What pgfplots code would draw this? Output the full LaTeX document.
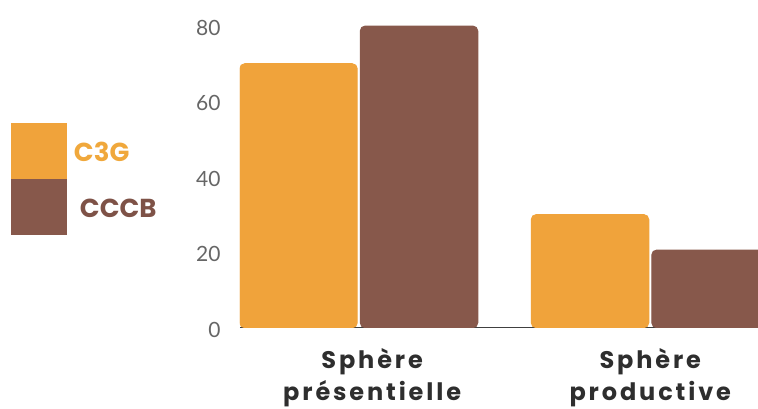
\documentclass[border=0pt]{standalone}
\usepackage{fontspec}
\setmainfont{Poppins}
\newfontfamily\lato{Lato}
\newfontfamily\catfont[LetterSpace=12]{Poppins}
\usepackage{pgfplots}
\pgfplotsset{compat=1.18}
\definecolor{cOrange}{HTML}{F0A33B}
\definecolor{cBrown}{HTML}{87584B}
\definecolor{cOrangeTxt}{HTML}{F0A83C}
\definecolor{cBrownTxt}{HTML}{7E5247}
\definecolor{tickgray}{HTML}{666666}
\definecolor{labgray}{HTML}{2E2E2E}
\begin{document}
\begin{tikzpicture}
\begin{axis}[
    scale only axis,
    width=259pt, height=163.85pt,
    xmin=-0.4074, xmax=1.3696,
    ymin=0, ymax=86.9,
    ybar,
    bar width=0.403,
    axis x line*=bottom,
    axis y line*=left,
    x axis line style={-, draw=black!75, line width=0.5pt},
    y axis line style={draw=none},
    major tick length=0pt,
    ytick={0,20,40,60,80},
    xtick={0.046,1},
    xticklabels={Sphère\\présentielle, Sphère\\productive},
    /pgf/number format/assume math mode=true,
    yticklabel style={font=\lato\fontsize{10.5}{12}\selectfont, text=tickgray, anchor=east, inner sep=0pt, xshift=-9.5pt, yshift=-1pt},
    xticklabel style={font=\catfont\bfseries\fontsize{12}{16.35}\selectfont, text=labgray, align=center, anchor=north, inner sep=0pt, yshift=-10pt},
    legend style={at={(rel axis cs:0,1)}, anchor=north west, xshift=-114.5pt, yshift=-61.35pt,
        draw=none, fill=none, inner sep=0pt, outer sep=0pt, row sep=0pt,
        nodes={inner sep=0pt, font=\bfseries\fontsize{13}{15}\selectfont}},
    legend cell align=left,
    ]
\addplot[fill=cOrange, draw=cOrange, line width=0.5pt, rounded corners=2.5pt, bar shift=-0.2067,
    legend image code/.code={\fill[cOrange, sharp corners] (0pt,-12.45pt) rectangle (27.5pt,15.05pt);}]
  coordinates {(0,70) (1,30)};
\addlegendentry{\hspace{3.5pt}\textcolor{cOrangeTxt}{C3G}}
\addplot[fill=cBrown, draw=cBrown, line width=0.5pt, rounded corners=2.5pt, bar shift=0.2067,
    legend image code/.code={\fill[cBrown, sharp corners] (0pt,-12.45pt) rectangle (27.5pt,15.05pt);}]
  coordinates {(0,80) (1,20.6)};
\addlegendentry{\hspace{6.5pt}\textcolor{cBrownTxt}{CCCB}}
\coordinate (ll) at (rel axis cs:0,0);
\coordinate (ur) at (rel axis cs:1,1);
\end{axis}
\pgfresetboundingbox
\path ([xshift=-120pt,yshift=-40.15pt]ll) rectangle (ur);
\end{tikzpicture}
\end{document}
